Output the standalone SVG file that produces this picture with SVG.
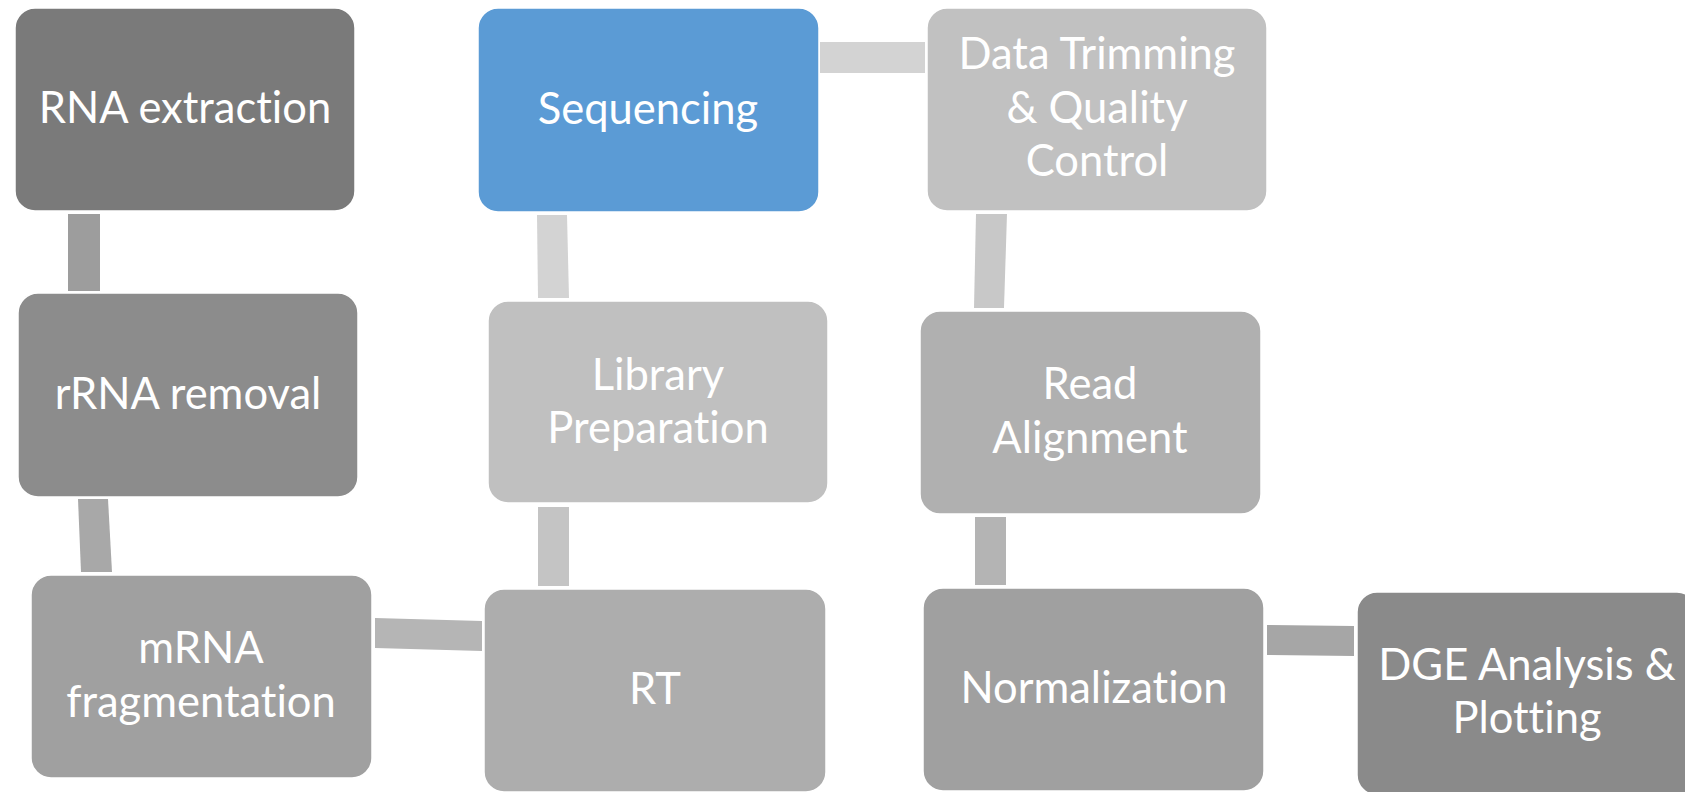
<svg xmlns="http://www.w3.org/2000/svg" width="1685" height="792" viewBox="0 0 1685 792">
<style>
.box{stroke:#ffffff;stroke-width:1.5}
.t{font-family:Lato,"Liberation Sans",sans-serif;font-size:43.5px;fill:#ffffff;text-anchor:middle;font-variant-ligatures:none;font-feature-settings:"liga" 0,"clig" 0}
</style>
<rect width="1685" height="792" fill="#ffffff"/>
<g id="connectors">
<polygon points="68,214 100,214 100,291 68,291" fill="#9d9d9d"/>
<polygon points="78,499 108,499 112,572 81,572" fill="#a8a8a8"/>
<polygon points="375,618 482,621 482,651 375,648" fill="#b5b5b5"/>
<polygon points="538,507 569,507 569,586 538,586" fill="#c4c4c4"/>
<polygon points="537,215 567,215 569,298 538,298" fill="#d3d3d3"/>
<polygon points="820,42 925,42 925,73 820,73" fill="#d3d3d3"/>
<polygon points="976,214 1007,214 1004,308 974,308" fill="#c8c8c8"/>
<polygon points="975,517 1006,517 1006,585 975,585" fill="#b4b4b4"/>
<polygon points="1267,625 1354,626 1354,656 1267,655" fill="#a6a6a6"/>
</g>
<g id="n-rna-extraction">
<rect class="box" x="15" y="8" width="340" height="203" rx="20" fill="#7a7a7a"/>
<text class="t" x="185" y="123">RNA extraction</text>
</g>
<g id="n-rrna-removal">
<rect class="box" x="18" y="293" width="340" height="204" rx="20" fill="#8c8c8c"/>
<text class="t" x="188" y="409">rRNA removal</text>
</g>
<g id="n-mrna-fragmentation">
<rect class="box" x="31" y="575" width="341" height="203" rx="20" fill="#a0a0a0"/>
<text class="t" x="201" y="663">mRNA</text>
<text class="t" x="201" y="717">fragmentation</text>
</g>
<g id="n-rt">
<rect class="box" x="484" y="589" width="342" height="203" rx="20" fill="#adadad"/>
<text class="t" x="655" y="704">RT</text>
</g>
<g id="n-library-preparation">
<rect class="box" x="488" y="301" width="340" height="202" rx="20" fill="#c0c0c0"/>
<text class="t" x="658" y="390">Library</text>
<text class="t" x="658" y="443">Preparation</text>
</g>
<g id="n-sequencing">
<rect class="box" x="478" y="8" width="341" height="204" rx="20" fill="#5b9bd5"/>
<text class="t" x="648" y="124">Sequencing</text>
</g>
<g id="n-data-trimming">
<rect class="box" x="927" y="8" width="340" height="203" rx="20" fill="#c1c1c1"/>
<text class="t" x="1097" y="69">Data Trimming</text>
<text class="t" x="1097" y="123">&amp; Quality</text>
<text class="t" x="1097" y="176">Control</text>
</g>
<g id="n-read-alignment">
<rect class="box" x="920" y="311" width="341" height="203" rx="20" fill="#b0b0b0"/>
<text class="t" x="1090" y="399">Read</text>
<text class="t" x="1090" y="453">Alignment</text>
</g>
<g id="n-normalization">
<rect class="box" x="923" y="588" width="341" height="203" rx="20" fill="#a0a0a0"/>
<text class="t" x="1094" y="703">Normalization</text>
</g>
<g id="n-dge">
<rect class="box" x="1357" y="592" width="340" height="203" rx="20" fill="#8a8a8a"/>
<text class="t" x="1527" y="680">DGE Analysis &amp;</text>
<text class="t" x="1527" y="733">Plotting</text>
</g>
</svg>
